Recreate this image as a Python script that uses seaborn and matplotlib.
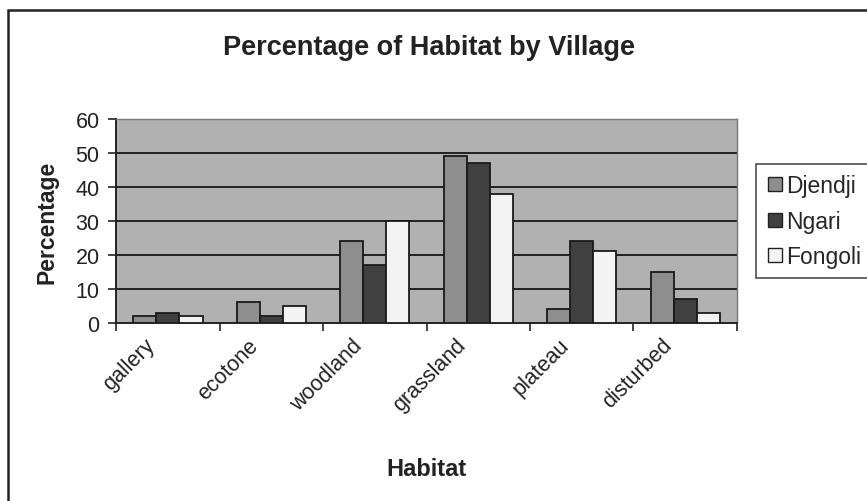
import matplotlib
matplotlib.use("Agg")
import matplotlib.pyplot as plt
import seaborn as sns
import pandas as pd
from matplotlib.patches import Rectangle
from matplotlib.lines import Line2D

habitats = ["gallery", "ecotone", "woodland", "grassland", "plateau", "disturbed"]
villages = ["Djendji", "Ngari", "Fongoli"]
djendji = [2, 6, 24, 49, 4, 15]
ngari = [3, 2, 17, 47, 24, 7]
fongoli = [2, 5, 30, 38, 21, 3]
yticks = [0, 10, 20, 30, 40, 50, 60]

colors = {"Djendji": "#8e8e8e", "Ngari": "#404040", "Fongoli": "#f3f3f3"}

df = pd.DataFrame({
    "Habitat": habitats * 3,
    "Village": [v for v in villages for _ in habitats],
    "Percentage": djendji + ngari + fongoli,
})

sns.set_theme(style="white")
plt.rcParams["font.family"] = ["Liberation Sans", "DejaVu Sans"]

fig = plt.figure(figsize=(8.67, 5.02), dpi=100)
ax = fig.add_axes([0.134, 0.355, 0.716, 0.406])
ax.set_facecolor("#b1b1b1")

sns.barplot(data=df, x="Habitat", y="Percentage", hue="Village",
            hue_order=villages, order=habitats, palette=colors,
            width=0.67, gap=0, edgecolor="#1a1a1a", linewidth=1.3,
            ax=ax, legend=False, zorder=3)

ax.set_ylim(0, 60)
ax.set_xlim(-0.5, len(habitats) - 0.5)
ax.set_yticks(yticks)
ax.set_yticklabels([str(t) for t in yticks], fontsize=15.5, color="#222222")
for t in yticks[1:]:
    ax.axhline(t, color="#222222", lw=1.4, zorder=1)

# category ticks sit on the boundaries between groups
ax.set_xticks([i - 0.5 for i in range(len(habitats) + 1)])
ax.set_xticklabels([""] * (len(habitats) + 1))
ax.tick_params(axis="x", direction="out", length=6, width=1.2,
               color="#222222", bottom=True)
ax.tick_params(axis="y", direction="out", length=6, width=1.2,
               color="#222222", left=True, pad=6)

# slanted category names under each group
for i, name in enumerate(habitats):
    ax.annotate(name, xy=(i, 0), xycoords=("data", "axes fraction"),
                xytext=(-11.5, -13.7), textcoords="offset points",
                rotation=45, rotation_mode="anchor", ha="right", va="center",
                fontsize=15.5, color="#222222", annotation_clip=False)

for side in ["left", "bottom"]:
    ax.spines[side].set_color("#222222")
    ax.spines[side].set_linewidth(1.4)
for side in ["top", "right"]:
    ax.spines[side].set_color("#777777")
    ax.spines[side].set_linewidth(1.0)

ax.set_xlabel("Habitat", fontsize=17, fontweight="bold", color="#222222")
ax.set_ylabel("Percentage", fontsize=16.5, fontweight="bold", color="#222222")
ax.xaxis.set_label_coords(0.5, -0.66)
ax.yaxis.set_label_coords(-0.093, 0.5)

fig.text(0.495, 0.904, "Percentage of Habitat by Village", ha="center",
         va="center", fontsize=19.5, fontweight="bold", color="#222222")

handles = [Line2D([0], [0], marker="s", linestyle="none", markersize=10,
                  markerfacecolor=colors[v], markeredgecolor="#222222",
                  markeredgewidth=1.0) for v in villages]
leg = fig.legend(handles, villages, loc="upper left",
                 bbox_to_anchor=(0.872, 0.671), frameon=True, fancybox=False,
                 fontsize=16.5, handletextpad=0.1, borderpad=0.42,
                 labelspacing=0.56, handlelength=0.8, borderaxespad=0)
leg.get_frame().set_edgecolor("#222222")
leg.get_frame().set_linewidth(1.2)

# chart frame
fig.patches.append(Rectangle((8 / 867, -0.05), 1.1, 1 - 10.5 / 502 + 0.05,
                             transform=fig.transFigure, fill=False,
                             edgecolor="#222222", linewidth=1.8))

fig.savefig("out.png", dpi=100)
